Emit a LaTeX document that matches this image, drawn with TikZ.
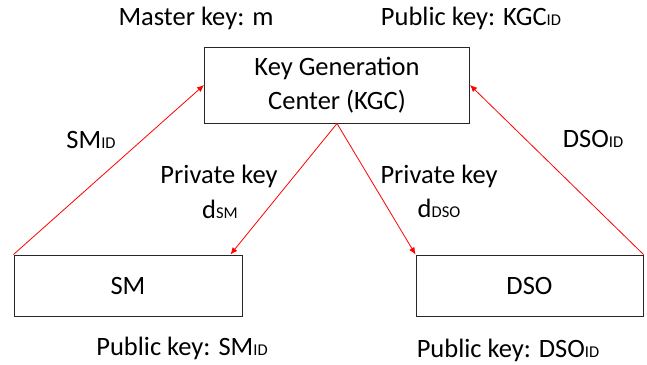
\documentclass[tikz,border=0pt]{standalone}
\usepackage{fontspec}
\setmainfont{Carlito}
\usetikzlibrary{arrows.meta}
\newcommand{\sub}[1]{\raisebox{-0.8pt}{\fontsize{16.5}{18}\selectfont #1}}
\tikzset{
  box/.style={draw=black!85, line width=1pt, minimum width=#1, inner sep=0pt, align=center},
  lbl/.style={inner sep=0pt, align=center, anchor=base},
  arr/.style={draw=red, line width=0.8pt, -{Latex[length=7pt,width=6pt]}},
}
\begin{document}
\begin{tikzpicture}[x=1pt,y=-1pt, font=\fontsize{26.5}{34}\selectfont]
\useasboundingbox[fill=white] (0,0) rectangle (647,364);
\node[box=265pt, minimum height=76pt] (kgc) at (337,85) {Key Generation\\Center (KGC)};
\node[box=228pt, minimum height=61pt] (sm) at (128,285.5) {SM};
\node[box=227pt, minimum height=61pt] (dso) at (529.5,285.5) {DSO};
\node[lbl] (mk) at (196,25) {Master key: m};
\node[lbl] (pkkgc) at (471,25) {Public key: KGC\sub{ID}};
\node[lbl] (smid) at (91,148) {SM\sub{ID}};
\node[lbl] (dsoid) at (593,147) {DSO\sub{ID}};
\node[lbl] (pk1) at (219,183) {Private key};
\node[lbl] (ds1) at (220,218) {d\sub{SM}};
\node[lbl] (pk2) at (439,183) {Private key};
\node[lbl] (ds2) at (439,217) {d\sub{DSO}};
\node[lbl] (pksm) at (182,355) {Public key: SM\sub{ID}};
\node[lbl] (pkdso) at (508,357) {Public key: DSO\sub{ID}};
\draw[arr] (sm.north west) -- (kgc.west);
\draw[arr] (dso.north east) -- (kgc.east);
\draw[arr] (kgc.south) -- ([xshift=-12pt]sm.north east);
\draw[arr] (kgc.south) -- (dso.north west);
\end{tikzpicture}
\end{document}
